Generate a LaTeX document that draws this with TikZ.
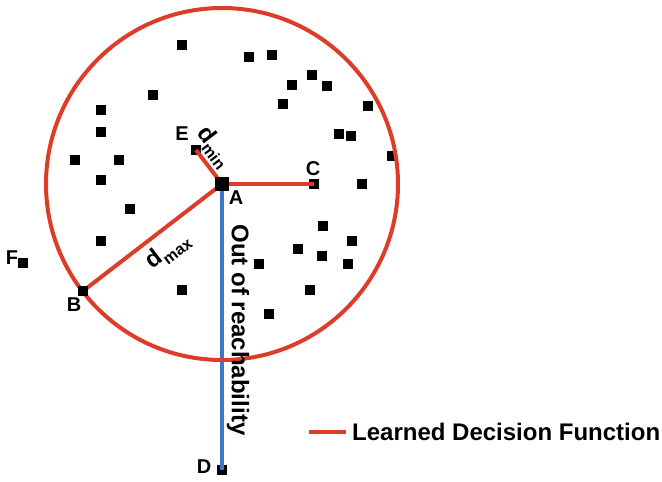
\documentclass[tikz,border=0pt]{standalone}
\usepackage{fontspec}
\setmainfont{Liberation Sans}
\definecolor{decred}{RGB}{220,60,40}
\definecolor{reachblue}{RGB}{60,120,200}
\begin{document}
\begin{tikzpicture}
        [x=1pt, y=-1pt,
        sample/.style={rectangle, fill=black, inner sep=0pt, minimum size=10pt},
        center/.style={rectangle, fill=black, inner sep=0pt, minimum size=14pt},
        lbl/.style={font=\fontsize{20}{20}\selectfont\bfseries, inner sep=0pt},
        big/.style={font=\fontsize{24}{24}\selectfont\bfseries, inner sep=0pt},
        redline/.style={draw=decred, line width=4pt},
        blueline/.style={draw=reachblue, line width=3.2pt}]
        \useasboundingbox (0,0) rectangle (662,482);
        \node[center] (A) at (222,184) {};
        \node[sample] (B) at (83,291) {};
        \node[sample] (C) at (314,184) {};
        \node[sample] (D) at (222,470) {};
        \node[sample] (E) at (196,150) {};
        \node[sample] (F) at (23,263) {};
        
        % other samples
        \foreach \px/\py [count=\i] in {182/45, 249/57, 272/55, 312/75, 292/85, 327/86, 283/104, 368/106,
                153/95, 101/110, 101/132, 75/160, 119/160, 101/180, 339/134, 351/136, 392/156,
                362/184, 130/209, 323/226, 101/241, 182/290, 352/241, 298/249, 322/256,
                348/264, 259/264, 310/290, 269/314}
            \node[sample] (s\i) at (\px,\py) {};
        
        \draw[blueline] (A.center) -- (D.center);
        \draw[redline] (A.center) circle (176);
        \draw[redline] (A.center) -- (E.center);
        \draw[redline] (A.center) -- (C.center);
        \draw[redline] (A.center) -- (B.center);
        \node[center] at (A) {};
        \node[sample] at (B) {};
        
        \node[lbl] (labA) at (236,198) {A};
        \node[lbl] (labB) at (74,305) {B};
        \node[lbl] (labC) at (313,169) {C};
        \node[lbl] (labD) at (204,467) {D};
        \node[lbl] (labE) at (182,134) {E};
        \node[lbl] (labF) at (12,258) {F};
        
        \node[big, rotate=37.6] (dmax) at (168,251) {d\raisebox{-0.25em}{\fontsize{16}{16}\selectfont max}};
        \node[big, rotate=-52.6] (dmin) at (214,147) {d\raisebox{-0.25em}{\fontsize{16}{16}\selectfont min}};
        \node[big, rotate=-90] (reach) at (238,330) {Out of reachability};
        
        % legend
        \coordinate (legL) at (309,432);
        \coordinate (legR) at (346,432);
        \draw[redline] (legL) -- (legR);
        \node[big, anchor=west] (legend) at (352,432) {Learned Decision Function};
    \end{tikzpicture}
\end{document}
